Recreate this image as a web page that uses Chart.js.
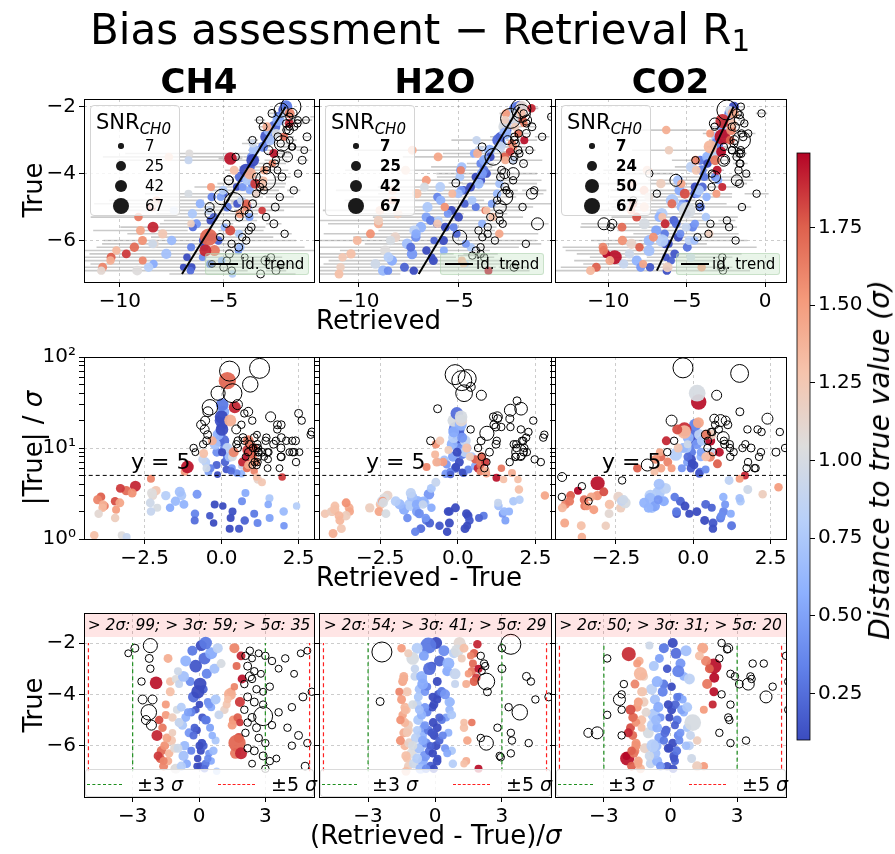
<!DOCTYPE html>
<html><head><meta charset="utf-8"><title>Bias assessment</title>
<script src="https://cdn.jsdelivr.net/npm/chart.js@4.4.1/dist/chart.umd.min.js"></script>
<style>
html,body{margin:0;padding:0;background:#fff;}
#wrap{position:relative;width:895px;height:854px;overflow:hidden;font-family:'DejaVu Sans',sans-serif;color:#000;}
#wrap canvas{position:absolute;left:0;top:0;}
.t{position:absolute;white-space:nowrap;line-height:1;}
.box{position:absolute;box-sizing:border-box;}
</style></head><body><div id="wrap"></div>
<script>
// ---------- data: [true value, (retrieved-true)/sigma, |true|/sigma, SNR_CH0] ----------
const gases = ['CH4', 'H2O', 'CO2'];
const ch4Points = [
[-5.6,-1.9,3.8,30],[-6.2,-1.7,3.4,22],[-6.0,-1.55,3.2,20],[-5.0,-1.8,2.6,18],[-6.5,-1.75,2.9,20],[-6.8,-1.6,2.7,20],[-5.3,-1.65,2.3,18],[-6.6,-1.4,2.4,18],[-4.8,-1.5,2.1,16],[-6.3,-1.35,2.2,18],[-6.9,-1.1,1.9,18],
[-5.8,-1.25,3.4,22],[-6.1,-1.1,3.0,20],[-4.6,-1.0,2.2,16],[-6.9,-1.05,3.2,24],[-3.5,-1.3,1.1,18],[-3.4,-1.05,1.1,16],[-3.6,-0.9,1.05,16],
[-5.2,-0.75,3.0,22],[-6.4,-0.7,3.3,26],[-4.9,-0.6,2.4,20],[-6.7,-0.55,2.2,18],[-5.5,-0.45,3.1,20],[-6.0,-0.65,2.6,22],
[-5.4,-0.1,2.4,16],[-6.2,0.08,1.7,16],[-4.6,-0.15,1.8,14],[-6.8,0.05,1.3,16],[-5.9,0.12,2.0,16],[-4.4,0.02,2.3,14],[-6.5,-0.06,1.5,14],
[-4.5,0.55,3.2,16],[-5.8,0.75,2.8,16],[-6.6,0.55,2.4,14],[-7.0,0.8,2.3,14],[-5.0,0.35,1.5,16],[-6.3,0.45,1.4,14],
[-4.6,1.15,4.5,18],[-4.4,1.25,4.2,16],
[-5.7,-1.45,2.5,20],[-6.4,-1.85,3.6,20],[-4.9,-1.2,1.7,18],[-6.1,-0.95,2.5,20],[-5.1,-0.9,2.0,18],[-6.8,-0.8,3.0,22],[-4.7,-0.35,1.9,18],[-5.6,-0.25,1.6,16],[-6.0,0.2,1.6,18],[-4.9,0.15,1.3,16],[-6.7,0.3,1.9,16],[-5.3,0.5,1.7,16],[-6.2,0.65,2.0,18],[-4.3,0.4,2.6,16],
[-2.1,0.1,18,30],[-2.3,-0.3,15,25],[-2.6,0.25,12,36],[-2.9,-0.15,20,40],[-3.2,0.35,10,25],[-3.5,-0.4,9,20],[-3.8,0.2,7,18],[-4.1,-0.25,12,30],[-4.4,0.45,6,16],[-4.7,-0.5,5.5,16],[-5.0,0.3,8,20],[-5.3,-0.2,6.5,16],[-5.6,0.6,5.2,14],[-5.9,0.15,5.8,14],[-6.2,-0.35,6,16],[-6.5,0.4,5.3,14],[-6.8,-0.1,5.1,12],
[-2.4,0.55,25,36],[-2.7,-0.6,14,30],[-3.0,0.7,8,25],[-3.3,-0.7,11,30],[-3.6,0.05,16,40],[-3.9,-0.05,22,44],[-4.2,0.75,9,25],[-4.5,-0.8,7,20],[-4.8,0.9,6.4,20],[-5.1,-0.9,7.5,20],[-2.0,0.3,30,40],[-2.2,0.85,10,25],[-6.0,0.02,9,16],[-6.9,0.25,5.6,14],[-3.1,-0.95,6,16],[-2.8,1.0,8,20],
[-2.2,1.6,9,25],[-2.5,1.9,7,20],[-2.9,1.7,6,16],[-3.4,1.95,8,20],[-3.9,1.45,6.5,18],[-4.3,1.85,9.5,25],[-5.0,1.55,7,20],[-5.7,1.8,10,25],[-6.3,1.65,12,30],[-5.9,1.72,55,75],[-6.3,1.9,28,36],[-4.0,1.4,20,36],
[-3.9,-1.3,8.7,20],[-4.4,-1.5,5.5,16],[-2.6,-1.4,12,20],[-5.5,-1.2,6.2,14],[-3.55,-1.94,6.2,40],[-6.6,-1.6,4.6,16],[-5.2,1.5,7.8,20],[-4.9,1.75,8.5,18],[-3.7,1.6,5.6,14],[-5.1,1.85,4.8,14],[-4.2,1.3,4.8,14],
[-2.4,-3.2,9,12],[-2.2,-2.9,14,16],[-2.1,-2.2,40,50],[-2.6,-2.25,12,16],[-3.0,-2.2,11,14],[-4.2,-2.55,20,20],[-4.2,-2.1,16,20],[-4.7,-2.27,28,60],[-5.0,-2.4,18,20],[-5.2,-2.15,25,25],[-3.5,-2.6,10,14],
[-2.5,2.1,10,14],[-2.6,2.4,8,12],[-2.4,2.7,6.5,12],[-2.5,3.0,7,14],[-2.9,2.2,12,16],[-3.1,2.5,9,14],[-3.2,2.8,6,12],[-3.3,2.3,16,20],[-3.6,2.05,6.5,14],
[-3.8,2.6,11,14],[-3.9,2.9,7.5,12],[-4.1,2.2,13,16],[-4.3,2.5,9,16],[-4.6,2.05,8,14],[-4.85,2.9,40,90],[-5.1,2.2,10,14],[-5.3,2.6,13,16],[-5.5,2.1,18,14],[-5.9,3.0,24,14],[-6.2,2.5,8,16],[-6.4,2.9,11,16],[-6.7,2.4,14,12],[-6.9,3.0,9,14],
[-2.3,2.3,11,14],[-2.7,3.3,12,14],[-3.0,3.6,9,12],[-3.4,2.4,7,14],[-3.7,3.2,10,14],[-4.4,2.9,11,14],[-4.9,2.4,9,16],[-5.2,3.3,12,14],[-5.7,2.7,8,14],[-6.1,2.2,9,14],[-6.6,3.2,12,14],[-4.5,4.2,13,14],[-5.9,4.9,16,14],
[-2.6,3.9,10,14],[-2.4,4.6,8,12],[-3.2,4.3,9,12],[-4.7,3.6,7,14],[-5.3,4.0,9,14],[-5.6,4.5,13,16],[-6.0,4.2,12,14],[-6.5,3.5,9,12],[-6.8,4.8,18,16],[-4.1,4.7,10,16],[-3.9,5.1,20,14],[-2.3,4.9,6,12],
[-2.0,9,70,100],[-3.1,15,50,60],[-4.2,22,75,100],[-2.7,8,25,20],[-3.5,10,22,25],[-2.9,12,18,16],[-4.5,9,14,14],[-5.5,8,15,16],[-6.5,7,12,14],[-6.9,9,14,16],[-6.7,6,9,12],[-5.8,11,17,14],[-7.0,6.5,12,16],[-6.6,5.5,10,20],[-2.2,7,30,25],[-3.6,8,12,16],[-4.0,13,20,14],[-5.0,12,24,16],[-2.5,11,12,14],[-3.3,6,9,12]
];
const h2oPoints = [
[-6.0,-1.35,2.0,20],[-6.5,-1.25,1.9,18],[-5.5,-1.4,2.2,20],[-6.8,-1.2,2.0,18],[-5.8,-1.55,2.5,20],[-7.0,-1.3,2.3,20],[-4.8,-1.45,2.0,18],
[-3.9,-1.25,1.3,20],[-4.5,-1.35,1.6,20],[-5.4,-1.2,1.8,22],[-3.3,-1.4,1.15,20],
[-5.9,-1.15,3.0,24],[-6.3,-1.05,2.8,26],[-4.6,-1.3,2.4,22],[-5.2,-1.2,2.2,22],[-6.7,-0.95,2.6,24],[-4.2,-1.5,2.6,20],[-3.5,-1.45,2.0,20],
[-5.0,-0.75,2.4,26],[-5.6,-0.6,2.6,28],[-6.1,-0.7,2.9,28],[-6.6,-0.55,2.1,26],[-4.4,-0.8,2.3,24],[-6.9,-0.65,2.4,26],[-5.3,-0.5,2.0,22],[-3.8,-0.7,2.5,22],[-6.4,-0.45,3.1,28],[-5.7,-0.85,3.2,26],
[-6.2,-0.25,1.3,20],[-5.4,-0.3,1.6,20],[-4.7,-0.35,1.2,18],[-6.8,-0.2,1.5,20],[-5.9,-0.4,1.9,22],[-3.9,-0.45,1.7,18],
[-5.1,-0.08,1.5,20],[-6.0,0.05,1.3,20],[-4.5,-0.12,2.0,18],[-6.6,0.09,1.8,20],[-5.6,-0.03,2.2,20],[-4.0,0.15,1.6,18],[-6.9,-0.06,1.2,18],[-5.3,0.1,1.9,20],
[-4.3,0.7,2.3,18],[-5.5,0.6,2.0,16],[-6.2,0.75,2.6,18],[-4.9,0.5,1.6,16],[-6.7,0.8,2.7,18],[-3.6,0.9,2.5,16],[-5.0,0.3,1.8,16],
[-5.3,1.3,3.5,18],[-5.8,1.45,3.0,18],[-4.1,-0.75,3.6,20],[-4.5,-0.45,5.2,18],[-3.3,-0.9,4.2,20],
[-6.4,-1.3,2.1,22],[-5.1,-1.35,1.8,20],[-6.0,-1.0,2.5,22],[-4.4,-1.0,1.9,20],[-6.5,-0.8,2.6,24],[-5.8,-0.55,2.4,22],[-4.8,-0.6,2.6,22],[-6.9,-0.4,1.7,18],[-5.5,-0.15,1.4,18],[-6.3,-0.1,2.0,18],[-4.2,0.1,1.4,16],[-5.8,0.2,1.7,16],[-6.1,0.45,1.9,16],[-4.6,0.65,2.0,18],[-3.4,-0.55,2.2,18],[-3.0,-0.9,2.4,18],
[-2.0,0.05,12,36],[-2.1,-0.3,16,64],[-2.3,0.4,10,30],[-2.5,-0.5,8,25],[-2.7,0.2,14,30],[-2.9,-0.15,6,20],[-3.1,0.55,9,25],[-3.3,-0.6,11,30],[-3.5,0.1,7,20],[-3.7,-0.35,5.5,16],[-3.9,0.3,8.5,22],[-4.1,-0.1,6.2,18],[-4.3,0.65,10,25],[-4.6,-0.7,7.4,20],[-4.9,0.2,5.3,16],[-5.2,-0.45,6.6,16],[-5.6,0.35,5.8,16],[-6.0,-0.2,5.1,14],[-6.5,0.12,5.4,14],
[-2.2,-0.8,13,30],[-2.4,0.85,9,25],[-2.6,-1.0,20,40],[-2.8,0.6,18,36],[-3.0,-0.25,24,40],[-3.2,0.9,12,30],[-3.6,-0.55,15,30],[-4.0,0.45,13,25],[-4.4,-0.05,9,20],[-4.8,0.75,8,20],[-5.4,-0.8,7,18],[-6.3,0.55,6.3,16],[-2.0,1.1,20,36],[-2.3,1.0,22,40],
[-2.2,-1.5,7,18],[-3.4,-1.4,7,20],[-2.4,-1.2,9.5,16],[-4.6,-1.35,8.5,16],[-5.0,-1.55,11,18],[-5.5,-1.25,12,18],[-3.9,-1.6,6.2,16],
[-2.05,1.9,6,18],[-2.4,1.75,7.5,18],[-2.5,1.6,5.5,14],[-2.8,1.7,6.5,16],[-3.1,1.65,7,18],[-3.2,1.5,5.2,14],[-3.35,1.85,7,18],[-3.5,1.75,8,20],[-2.2,1.3,10,20],[-3.6,1.4,5.6,16],[-3.0,1.95,4.7,16],[-5.1,1.65,6.0,14],[-5.1,1.3,4.5,14],[-6.6,1.4,5.3,16],[-6.9,1.95,4.0,16],[-6.7,1.3,4.5,14],[-2.6,1.2,8,16],
[-2.35,-2.38,64,100],[-4.28,-2.46,12,16],[-2.5,2.05,6,14],[-2.8,2.2,8,14],[-2.9,2.25,10,14],[-3.1,2.1,7,12],[-3.5,2.3,40,70],[-3.9,2.35,9,16],[-3.0,3.0,12,16],[-2.2,3.0,16,14],[-2.05,3.4,55,100],[-3.3,4.1,11,16],[-3.5,4.3,12,14],[-4.5,3.3,8,14],[-4.7,3.8,9,60],[-4.2,4.5,10,14],[-5.3,2.8,8,14],[-5.7,2.05,7,14],[-5.9,2.3,14.5,50],[-5.5,3.4,7,14],[-5.8,3.45,9,14],[-5.9,4.2,12,14],[-6.4,2.9,7.5,14],[-6.45,2.95,9,14],[-6.3,3.4,10,14],[-4.1,5.1,18,16],
[-2.2,8,58,80],[-3.0,6.5,47,20],[-2.4,12,38,25],[-3.2,-5.5,27,16],[-2.6,8,17,16],[-3.4,7,17,14],[-2.8,9,22,16],[-3.6,7.5,21,16],[-4.0,7,22,25],[-4.4,8,21,16],[-4.0,11,26,36],[-5.0,11,27,40],[-3.7,17,33,16],[-5.4,9,20,14],[-4.8,6,17,14],[-6.0,6.5,14,14],[-5.6,5.8,16,14],[-6.2,5.5,15,14],[-5.2,5.5,13,14],[-4.6,5.5,12,14],[-6.5,5.5,13,14],[-3.3,6,11,14],[-2.3,9,11,14],[-4.5,5.4,7.5,14],[-6.8,6,9,16],[-6.1,5.8,8,14],[-5.0,6,9.5,14],[-2.9,5.6,8,14],[-5.5,8,10,36],[-4.6,7,10,30]
];
const co2Points = [
[-6.5,-1.95,4.1,50],[-6.2,-1.6,2.4,20],[-6.4,-1.98,3.4,16],[-6.8,-1.75,3.0,20],[-5.6,-1.7,2.7,20],[-6.0,-1.55,3.0,22],[-4.9,-1.65,2.3,18],[-6.6,-1.45,2.9,20],[-5.3,-1.8,3.3,20],[-4.5,-1.5,2.1,20],[-6.9,-1.35,2.2,20],[-5.0,-1.3,2.4,22],[-6.1,-1.15,2.9,26],[-4.3,-1.2,2.2,22],[-5.5,-1.0,2.5,30],[-6.7,-0.9,2.6,22],
[-3.9,-1.3,1.4,20],[-4.3,-1.45,1.5,20],[-3.3,-1.2,1.4,18],[-2.7,-1.4,1.05,18],
[-4.8,-0.75,3.2,40],[-5.2,-0.8,3.0,34],[-6.0,-0.65,2.8,30],[-6.6,-0.6,2.5,26],[-4.2,-0.7,2.2,26],[-5.7,-0.5,2.3,26],[-3.8,-0.85,3.6,30],[-6.3,-0.7,4.0,30],
[-5.4,-0.2,2.6,20],[-6.1,-0.1,2.3,20],[-4.6,0.05,2.0,20],[-6.8,-0.15,1.9,18],[-5.9,0.1,1.6,20],[-4.4,0.22,2.4,20],[-6.4,0.15,1.5,20],[-5.0,0.3,1.7,20],[-6.9,0.12,1.3,18],[-5.6,0.35,2.0,20],[-4.1,0.4,1.8,18],[-6.2,0.28,1.4,20],[-3.6,-0.3,2.0,20],
[-5.3,0.75,2.6,18],[-6.5,0.95,3.5,20],[-5.8,1.2,3.1,18],[-6.8,1.5,3.7,18],[-4.7,0.6,2.9,18],[-6.0,0.85,4.4,20],
[-6.3,-1.65,2.6,20],[-5.1,-1.55,2.3,18],[-4.7,-1.1,1.9,20],[-6.4,-0.95,2.7,22],[-5.3,-0.6,2.2,24],[-4.5,-0.55,2.6,26],[-6.8,-0.45,2.7,20],[-5.8,-0.3,2.9,18],[-4.9,-0.05,1.9,16],[-6.6,0.2,2.2,16],[-5.5,0.45,2.4,16],[-4.2,0.55,1.9,16],[-6.0,0.7,2.8,18],
[-2.0,0.1,12,25],[-2.2,-0.3,9,25],[-2.4,0.25,15,30],[-2.6,-0.5,7,20],[-2.8,0.45,11,25],[-3.0,-0.15,6,18],[-3.3,0.6,8,20],[-3.5,-0.6,13,30],[-3.7,0.05,6.5,18],[-3.9,-0.35,10,25],[-4.1,0.3,5.5,16],[-4.4,-0.1,7.5,20],[-4.6,0.5,9,20],[-4.9,-0.45,6,16],[-5.2,0.2,5.2,16],[-5.5,-0.25,8,20],[-5.8,0.4,5.8,16],[-6.1,-0.05,6.8,16],[-6.5,0.15,5.3,14],[-2.3,0.7,18,30],[-2.9,-0.75,10,25],[-3.4,0.85,14,30],[-6.0,-0.8,8.5,40],[-4.5,0.75,12,25],[-5.0,-0.65,10,25],[-5.6,0.9,9,20],[-3.1,0.35,18,36],[-2.1,-0.95,11,16],
[-2.43,-1.88,16,50],[-3.2,-1.35,15,45],[-2.9,1.95,32,60],[-5.1,1.0,40,70],[-2.2,1.45,19,30],[-3.35,1.97,12,25],[-3.9,1.95,9,20],[-6.8,1.2,14,25],[-2.7,1.6,8,25],[-3.0,1.75,6.7,20],[-4.4,1.9,5,16],[-4.6,1.5,4.6,16],[-3.6,1.65,14,25],[-2.5,1.3,8,20],
[-3.6,-1.6,7,20],[-4.3,-1.45,6,18],[-4.9,-1.7,8,20],[-5.3,-1.3,5.5,16],[-5.9,-1.55,7.5,20],[-5.5,-1.9,12,20],[-6.2,-1.75,6,18],[-2.8,-1.5,6,16],[-3.9,-1.25,10,20],[-4.6,-1.8,16,25],[-6.7,-1.45,9,16],
[-2.6,-2.85,12,14],[-3.6,-2.1,9,14],[-4.2,-2.3,6.5,36],[-4.6,-2.2,4.4,14],[-4.8,-2.85,3.8,14],[-5.5,-3.7,4.8,20],[-5.5,-3.3,3.8,36],[-5.6,-2.2,2.9,14],[-4.0,-2.2,2.6,14],
[-2.0,2.3,10,14],[-2.2,2.6,14,20],[-2.25,2.55,9,14],[-2.6,2.2,12,14],[-3.2,2.7,15,14],[-3.3,2.9,8,14],[-3.6,3.1,11,16],[-3.6,3.5,13,36],[-3.3,3.6,10,14],[-3.4,3.65,7,14],[-2.8,3.7,6,14],[-2.8,4.2,9,14],[-4.1,4.3,20,36],[-3.7,4.6,8,14],[-4.0,2.3,15,14],[-4.4,2.7,12,14],[-4.9,2.6,18,14],[-5.0,2.65,16,14],[-5.5,2.2,6,14],[-5.9,2.7,10,14],[-5.8,3.4,9,14],
[-2.1,-12,76,100],[-3.0,33,66,80],[-2.4,12,38,25],[-2.5,-5.6,20,30],[-2.6,5.5,21,20],[-3.0,7,20,20],[-3.1,6.5,18,16],[-2.9,13,25,16],[-3.3,8.5,16,14],[-3.7,9,16,14],[-3.9,8.5,15,14],[-4.2,12,21,30],[-4.0,10.5,15,14],[-2.5,5.2,11,14],[-3.4,5.5,10,16],[-3.5,5.3,11,14],[-5.4,5.5,10,14],[-4.3,5.6,9,16],[-2.2,5.4,6,14],[-5.0,6,8.5,14],[-6.0,5.5,8,14],[-6.8,5.6,9.5,14],[-6.5,5.8,10,14],[-4.6,5.3,6,14],[-5.6,6.5,11,14],[-6.9,5.5,9,14]
];
const snrLegend = [[7,25,42,67],[7,25,42,67],[7,24,50,67]];
const over2 = [99,54,50], over3 = [59,41,31], over5 = [35,29,20];
const row1XTicks = [[-10,-5],[-10,-5],[-10,-5,0]];
const row1XRange = [[-11.73,-0.63],[-11.95,-0.43],[-13.4,1.34]];
const row1YTicks = [-6,-4,-2];
const row1YRange = [-7.24,-1.77];
const row2XTicks = [-2.5,0,2.5];
const row2XRange = [-4.47,3.0];
const row2YTicks = [1,2,3,4,5,6,7,8,9,10,20,30,40,50,60,70,80,90,100];
const row3XTicks = [-3,0,3];
const row3XRange = [-5.2,5.2];
const row3YTicks = [-6,-4,-2];
const row3YRange = [-8.0,-0.83];
const cbarTicks = [0.25,0.5,0.75,1.0,1.25,1.5,1.75];
const cbarRange = [0.1,1.99];
const threshold = 5;

// ---------- layout ----------
const wrap = document.getElementById('wrap');
const W=895,H=854,YW=60,XH=40;
const COLS=[[84,314],[319,551],[555,786]];
const ROWS=[[99,282],[357,539],[613,797]];
const GRID='rgba(0,0,0,0.2)';
Chart.defaults.font.family="'DejaVu Sans', sans-serif";
Chart.defaults.color='#000';

const CW=[[0,[59,76,192]],[0.125,[98,130,234]],[0.25,[141,176,254]],[0.375,[184,208,249]],[0.5,[221,221,221]],[0.625,[245,196,173]],[0.75,[244,154,123]],[0.875,[222,96,77]],[1,[180,4,38]]];
function coolwarm(c){c=Math.max(0,Math.min(1,c));for(let i=1;i<CW.length;i++){if(c<=CW[i][0]){const a=CW[i-1],b=CW[i];const f=(c-a[0])/(b[0]-a[0]);return a[1].map((v,k)=>Math.round(v+(b[1][k]-v)*f));}}return CW[CW.length-1][1];}
function norm(v){return (v-cbarRange[0])/(cbarRange[1]-cbarRange[0]);}
function colFor(d,a){const c=coolwarm(norm(Math.abs(d)));return 'rgba('+c[0]+','+c[1]+','+c[2]+','+a+')';}
const minus=v=>String(v).replace('-','\u2212');

const derived=[ch4Points,h2oPoints,co2Points].map(ps=>ps.map(([t,d,r,s])=>{const sig=Math.abs(t)/r;return {t,dev:d,ratio:r,size:s,sig,dx:d*sig,ret:t+d*sig,hollow:Math.abs(d)>2};}));

function alignPx(p){return Math.round(p-0.5)+0.5;}
const framePlugin={id:'frame',afterDatasetsDraw(chart){const {ctx,chartArea:a}=chart;ctx.save();ctx.strokeStyle='#000';ctx.lineWidth=1;ctx.setLineDash([]);const x0=alignPx(a.left),x1=alignPx(a.right),y0=alignPx(a.top),y1=alignPx(a.bottom);ctx.strokeRect(x0,y0,x1-x0,y1-y0);ctx.restore();}};

function axis(o){
  return {
    type:o.type||'linear', position:o.position, min:o.min, max:o.max,
    afterBuildTicks:s=>{s.ticks=o.ticks.map(v=>({value:v}));},
    afterFit:s=>{if(o.position==='bottom'||o.position==='top')s.height=XH;else s.width=YW;},
    ticks:{display:o.labels!==false, callback:o.fmt, font:{size:20}, color:'#000', padding:3, autoSkip:false, maxRotation:0, minRotation:0},
    grid:{color:o.gridColor||GRID, drawOnChartArea:o.onArea!==false, lineWidth:1, tickColor:'#000', tickLength:5, tickWidth:1, tickBorderDash:[], drawTicks:true},
    border:{display:false, dash:[3,3]}
  };
}
function newCanvas(){const cv=document.createElement('canvas');cv.width=W;cv.height=H;cv.style.width=W+'px';cv.style.height=H+'px';wrap.appendChild(cv);return cv;}
const charts=[];
function makePanel(ri,ci){
  const [l,r]=COLS[ci],[t,b]=ROWS[ri];
  const P=derived[ci];
  const tVals=P.map(p=>p.t), tMin=Math.min(...tVals), tMax=Math.max(...tVals);
  const xy=p=>ri===0?{x:p.ret,y:p.t}:(ri===1?{x:p.dx,y:p.ratio}:{x:p.dev,y:p.t});
  const filled=P.filter(p=>!p.hollow), hollow=P.filter(p=>p.hollow);
  const ds=[];
  const lineBase={type:'line',pointRadius:0,fill:false,tension:0,spanGaps:false,clip:0};
  if(ri===0) ds.push(Object.assign({},lineBase,{data:[{x:tMin,y:tMin},{x:tMax,y:tMax}],borderColor:'#000',borderWidth:2}));
  if(ri===1) ds.push(Object.assign({},lineBase,{data:[{x:-10,y:threshold},{x:10,y:threshold}],borderColor:'#000',borderWidth:1,borderDash:[4,3]}));
  if(ri===2){
    ds.push(Object.assign({},lineBase,{data:[{x:-3,y:tMin},{x:-3,y:tMax},{x:-3,y:null},{x:3,y:tMin},{x:3,y:tMax}],borderColor:'#1f8f1f',borderWidth:1.2,borderDash:[4,3]}));
    ds.push(Object.assign({},lineBase,{data:[{x:-5,y:tMin},{x:-5,y:tMax},{x:-5,y:null},{x:5,y:tMin},{x:5,y:tMax}],borderColor:'#ff2020',borderWidth:1.2,borderDash:[4,3]}));
  }
  ds.push({type:'bubble',data:hollow.map(p=>Object.assign(xy(p),{r:Math.sqrt(p.size)})),backgroundColor:'rgba(0,0,0,0)',borderColor:'#000',borderWidth:1,clip:0});
  ds.push({type:'bubble',data:filled.map(p=>Object.assign(xy(p),{r:Math.sqrt(p.size)})),backgroundColor:filled.map(p=>colFor(p.dev,0.95)),borderWidth:0,clip:0});
  if(ri===0){
    const eb=[];P.forEach(p=>{eb.push({x:p.ret-p.sig,y:p.t},{x:p.ret+p.sig,y:p.t},{x:p.ret+p.sig,y:null});});
    ds.push(Object.assign({},lineBase,{data:eb,borderColor:'rgba(150,150,150,0.5)',borderWidth:1.6}));
  }
  let xs,ys;
  if(ri===0){
    xs=axis({position:'bottom',min:row1XRange[ci][0],max:row1XRange[ci][1],ticks:row1XTicks[ci],fmt:v=>minus(v)});
    ys=axis({position:'left',min:row1YRange[0],max:row1YRange[1],ticks:row1YTicks,fmt:v=>minus(v),labels:ci===0});
  } else if(ri===1){
    xs=axis({position:'bottom',min:row2XRange[0],max:row2XRange[1],ticks:row2XTicks,fmt:v=>minus(v.toFixed(1))});
    const MAJ={1:'10\u2070',10:'10\u00b9',100:'10\u00b2'};
    ys=axis({type:'logarithmic',position:'left',min:1,max:100,ticks:row2YTicks,fmt:v=>MAJ[v]||'',labels:ci===0,gridColor:c=>(c.tick&&MAJ[c.tick.value])?GRID:'rgba(0,0,0,0)'});
  } else {
    xs=axis({position:'bottom',min:row3XRange[0],max:row3XRange[1],ticks:row3XTicks,fmt:v=>minus(v)});
    ys=axis({position:'left',min:row3YRange[0],max:row3YRange[1],ticks:row3YTicks,fmt:v=>minus(v),labels:ci===0});
  }
  const ch=new Chart(newCanvas(),{type:'bubble',data:{datasets:ds},options:{responsive:false,animation:false,devicePixelRatio:1,events:[],
    layout:{padding:{left:l-YW,right:W-r,top:t,bottom:H-b-XH}},
    plugins:{legend:{display:false},tooltip:{enabled:false}},scales:{x:xs,y:ys}},plugins:[framePlugin]});
  charts.push({ri,ci,ch});
}
for(let ri=0;ri<3;ri++)for(let ci=0;ci<3;ci++)makePanel(ri,ci);

// colorbar
const gradPlugin={id:'grad',beforeDatasetsDraw(chart){const {ctx,chartArea:a,scales:{y}}=chart;const y0=y.getPixelForValue(cbarRange[0]),y1=y.getPixelForValue(cbarRange[1]);const g=ctx.createLinearGradient(0,y0,0,y1);CW.forEach(([s,c])=>g.addColorStop(s,'rgb('+c.join(',')+')'));ctx.save();ctx.fillStyle=g;ctx.fillRect(a.left,a.top,a.right-a.left,a.bottom-a.top);ctx.strokeStyle='#000';ctx.lineWidth=0.8;ctx.strokeRect(a.left,a.top,a.right-a.left,a.bottom-a.top);ctx.restore();}};
new Chart(newCanvas(),{type:'scatter',data:{datasets:[]},options:{responsive:false,animation:false,devicePixelRatio:1,events:[],
  layout:{padding:{left:797,right:W-810-YW,top:153,bottom:H-740}},
  plugins:{legend:{display:false},tooltip:{enabled:false}},
  scales:{x:{display:false,min:0,max:1},y:axis({position:'right',min:cbarRange[0],max:cbarRange[1],ticks:cbarTicks,fmt:v=>v.toFixed(2),onArea:false})}},plugins:[gradPlugin]});

// ---------- text & legends ----------
function T(html,x,y,size,o){o=o||{};const d=document.createElement('div');d.className='t';d.innerHTML=html;d.style.fontSize=size+'px';if(o.bold)d.style.fontWeight='bold';if(o.italic)d.style.fontStyle='italic';d.style.left=x+'px';d.style.top=y+'px';let tr=o.left?'translate(0,-50%)':'translate(-50%,-50%)';if(o.rot)tr+=' rotate('+o.rot+'deg)';d.style.transform=tr;wrap.appendChild(d);return d;}
function B(x,y,w,h,css){const d=document.createElement('div');d.className='box';Object.assign(d.style,{left:x+'px',top:y+'px',width:w+'px',height:h+'px'},css||{});wrap.appendChild(d);return d;}

T('Bias assessment \u2212 Retrieval R<sub style="font-size:0.7em;vertical-align:-0.25em;line-height:0">1</sub>',420,30,42);
gases.forEach((g,ci)=>{const [l,r]=COLS[ci];T(g,(l+r)/2,81,34,{bold:true});});
T('Retrieved',316,320,26,{left:true});
T('Retrieved - True',316,577,26,{left:true});
T('(Retrieved - True)/<i>\u03c3</i>',310,835,26,{left:true});
T('True',33,190,26,{rot:-90});
T('|True| / <i>\u03c3</i>',33,448,26,{rot:-90});
T('True',33,705,26,{rot:-90});
T('Distance to true value (\u03c3)',880,460,28,{rot:-90,italic:true});

charts.filter(c=>c.ri===1).forEach(({ci,ch})=>{
  const [l]=COLS[ci];
  const yPix=ch.scales.y.getPixelForValue(threshold);
  T('y = 5',l+47,yPix-13,22,{left:true});
});

gases.forEach((g,ci)=>{
  const [l,r]=COLS[ci];
  // SNR legend
  const bx=l+6,by=105;
  B(bx,by,90,111,{background:'rgba(255,255,255,0.8)',border:'1px solid #d4d4d4',borderRadius:'4px'});
  T('SNR<sub style="font-size:15px;font-style:italic;vertical-align:-5px;line-height:0">CH0</sub>',bx+6,by+17,21,{left:true});
  snrLegend[ci].forEach((v,k)=>{const ry=by+41+k*20;const rr=Math.sqrt(v);B(bx+31-rr,ry-rr,2*rr,2*rr,{background:'#1a1a1a',borderRadius:'50%'});T(String(v),bx+55,ry,15,{left:true,bold:ci>0});});
  // id. trend legend
  B(l+121,253,104,22,{background:'rgba(200,230,200,0.4)',border:'1px solid rgba(170,205,170,0.5)',borderRadius:'3px'});
  B(l+126,263,28,0,{borderTop:'2px solid #000'});
  T('id. trend',l+157,264,15,{left:true});
  // counts band
  B(l+1,614,r-l-1,23,{background:'rgba(255,0,0,0.1)'});
  T('&gt; 2\u03c3: '+over2[ci]+'; &gt; 3\u03c3: '+over3[ci]+'; &gt; 5\u03c3: '+over5[ci],(l+r)/2,626,15.5,{italic:true});
  // sigma legend
  B(l+1,769,r-l-1,28,{background:'rgba(255,255,255,0.8)',border:'1px solid #dadada',borderRadius:'3px'});
  B(l+3,784,35,0,{borderTop:'1.5px dashed #1f8f1f'});
  T('\u00b13 <i>\u03c3</i>',l+53,784,19,{left:true});
  B(l+134,784,37,0,{borderTop:'1.5px dashed #ff2020'});
  T('\u00b15 <i>\u03c3</i>',l+187,784,19,{left:true});
});
</script></body></html>
